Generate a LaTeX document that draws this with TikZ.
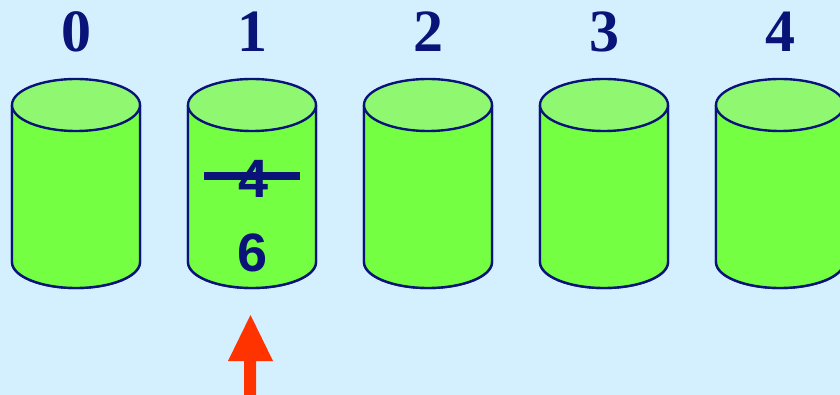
\documentclass[tikz,border=0pt]{standalone}
\usepackage{fontspec}
\setmainfont{Liberation Serif}
\newfontfamily\sansb{Liberation Sans}
\definecolor{bgblue}{HTML}{D4F0FF}
\definecolor{bodygreen}{HTML}{74FF42}
\definecolor{topgreen}{HTML}{90F870}
\definecolor{navy}{HTML}{0A1478}
\definecolor{arrowred}{HTML}{FF3300}
\tikzset{
  cylbody/.style={fill=bodygreen, draw=navy, line width=2.4pt, line join=round},
  cyltop/.style={fill=topgreen, draw=navy, line width=2.4pt},
  idxlab/.style={text=navy, font=\fontsize{60}{60}\selectfont\bfseries, inner sep=0pt},
  vallab/.style={text=navy, font=\sansb\fontsize{54}{54}\selectfont\bfseries, inner sep=0pt},
  strike/.style={draw=navy, line width=8pt},
  redarrow/.style={fill=arrowred}
}
\begin{document}
\begin{tikzpicture}[x=1pt,y=-1pt]
\fill[bgblue] (0,0) rectangle (840,395);
\useasboundingbox (0,0) rectangle (840,395);
\foreach \i in {0,...,4}{
  \pgfmathsetmacro\cx{76+176*\i}
  \fill[cylbody] (\cx-64,105) -- (\cx-64,262) arc[start angle=180,end angle=0,x radius=64,y radius=26] -- (\cx+64,105) -- cycle;
  \draw[cylbody] (\cx-64,105) -- (\cx-64,262) arc[start angle=180,end angle=0,x radius=64,y radius=26] -- (\cx+64,105);
  \filldraw[cyltop] (\cx,105) ellipse[x radius=64, y radius=26];
  \coordinate (cyl\i) at (\cx,180);
  \node[idxlab] (lab\i) at (\cx,32) {\i};
}
\node[vallab] (old) at (254,179) {4};
\node[vallab] (new) at (253,253) {6};
\coordinate (sL) at (204,176);
\coordinate (sR) at (300,176);
\draw[strike] (sL) -- (sR);
\coordinate (tip) at (250.5,315);
\fill[redarrow] (tip) -- (273,361) -- (256,361) -- (256,395) -- (244,395) -- (244,361) -- (228,361) -- cycle;
\end{tikzpicture}
\end{document}
